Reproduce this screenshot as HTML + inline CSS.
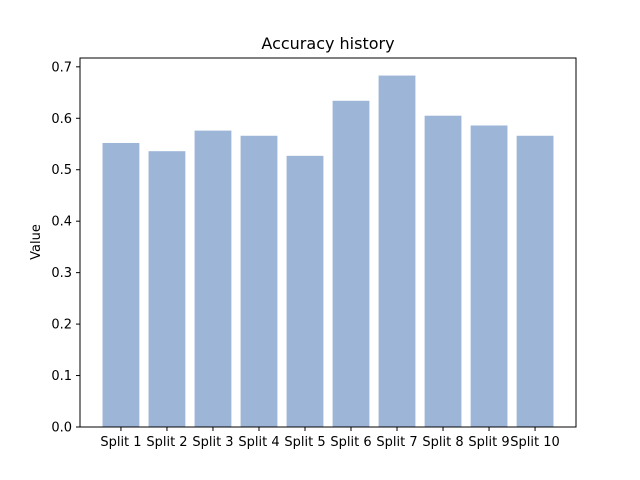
<!DOCTYPE html>
<html><head><meta charset="utf-8"><style>
html,body{margin:0;padding:0;background:#fff;}
svg{display:block;font-family:"DejaVu Sans","Liberation Sans",sans-serif;}
</style></head><body>
<svg id="chart" width="640" height="480" viewBox="0 0 640 480">
<rect x="0" y="0" width="640" height="480" fill="#fff"/>
<text x="328" y="49" text-anchor="middle" font-size="16" fill="#000">Accuracy history</text>
<g id="bars"></g>
<g id="xticks"></g>
<g id="yticks"></g>
<rect x="80" y="58" width="496" height="369" fill="none" stroke="#000" stroke-width="1"/>
<text transform="translate(40,242) rotate(-90)" text-anchor="middle" font-size="13" fill="#000">Value</text>
</svg>
<script>
const categories = ["Split 1","Split 2","Split 3","Split 4","Split 5","Split 6","Split 7","Split 8","Split 9","Split 10"];
const values = [0.552, 0.536, 0.576, 0.566, 0.527, 0.634, 0.683, 0.605, 0.586, 0.566];
const yTicks = [0.0, 0.1, 0.2, 0.3, 0.4, 0.5, 0.6, 0.7];

const NS = "http://www.w3.org/2000/svg";
const L = 80, R = 576, T = 58, B = 427;
const yMax = Math.max(...values) * 1.05;
const xMin = -0.4 - 0.05 * (categories.length - 0.2);
const xMax = categories.length - 1 + 0.4 + 0.05 * (categories.length - 0.2);
function xs(v){ return L + (v - xMin) / (xMax - xMin) * (R - L); }
function ys(v){ return B - v / yMax * (B - T); }
function mk(tag, attrs){ const e = document.createElementNS(NS, tag); for (const k in attrs) e.setAttribute(k, attrs[k]); return e; }

const gb = document.getElementById('bars');
const gx = document.getElementById('xticks');
const gy = document.getElementById('yticks');
values.forEach((v, i) => {
  const x0 = xs(i - 0.4), x1 = xs(i + 0.4);
  const r = mk('rect', {x: x0, y: ys(v), width: x1 - x0, height: B - ys(v), fill: '#9db5d7'});
  
  
  gb.appendChild(r);
  const cx = xs(i);
  const t = mk('line', {x1: cx, x2: cx, y1: B, y2: B + 4, stroke: '#000'});
  
  
  gx.appendChild(t);
  const lb = mk('text', {x: cx, y: B + 19, 'text-anchor': 'middle', 'font-size': 13, fill: '#000'});
  lb.textContent = categories[i];
  
  
  gx.appendChild(lb);
});
yTicks.forEach(v => {
  const y = ys(v);
  const t = mk('line', {x1: L - 4, x2: L, y1: y, y2: y, stroke: '#000'});
  
  
  gy.appendChild(t);
  const lb = mk('text', {x: L - 8, y: y + 4.5, 'text-anchor': 'end', 'font-size': 13, fill: '#000'});
  lb.textContent = v.toFixed(1);
  
  
  gy.appendChild(lb);
});
</script>
</body></html>
